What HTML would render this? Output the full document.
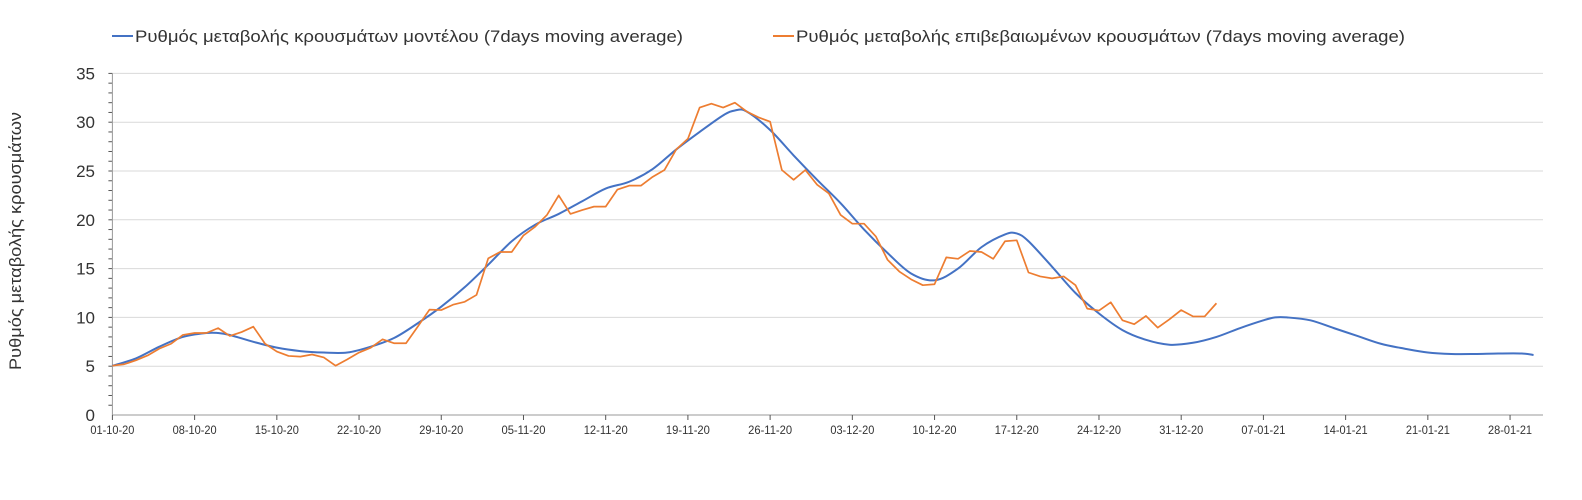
<!DOCTYPE html>
<html><head><meta charset="utf-8"><style>
body{margin:0;background:#fff;font-family:"Liberation Sans",sans-serif;}
svg text{font-family:"Liberation Sans",sans-serif;fill:#333;}
</style></head><body>
<svg id="chart" width="1582" height="495" xmlns="http://www.w3.org/2000/svg">
<g id="grid"></g>
<g id="axes"></g>
<g id="series"></g>
<text x="0" y="0" transform="translate(21,241) rotate(-90)" text-anchor="middle" font-size="17" textLength="258" lengthAdjust="spacingAndGlyphs">Ρυθμός μεταβολής κρουσμάτων</text>
<g>
<line x1="112" y1="36" x2="133" y2="36" stroke="#4472c4" stroke-width="2"/>
<text x="135" y="42" font-size="17" textLength="548" lengthAdjust="spacingAndGlyphs">Ρυθμός μεταβολής κρουσμάτων μοντέλου (7days moving average)</text>
</g>
<g>
<line x1="773" y1="36" x2="794" y2="36" stroke="#ed7d31" stroke-width="2"/>
<text x="796" y="42" font-size="17" textLength="609" lengthAdjust="spacingAndGlyphs">Ρυθμός μεταβολής επιβεβαιωμένων κρουσμάτων (7days moving average)</text>
</g>
</svg>
<script>
const xTickLabels=["01-10-20","08-10-20","15-10-20","22-10-20","29-10-20","05-11-20","12-11-20","19-11-20","26-11-20","03-12-20","10-12-20","17-12-20","24-12-20","31-12-20","07-01-21","14-01-21","21-01-21","28-01-21"];
const yTicks=[0,5,10,15,20,25,30,35];
const modelDays=[0,2,4,6,8,9,10,12,14,16,18,20,22,24,26,28,30,32,34,36,38,40,42,44,46,48,50,52,53,54,56,58,60,62,64,66,68,70,72,74,76,77,78,80,82,84,86,88,90,92,94,96,98,99,100,102,104,106,108,110,112,114,116,118,120,121];
const modelValues=[5.05,5.8,7.0,8.0,8.4,8.4,8.2,7.5,6.9,6.55,6.4,6.4,7.0,7.9,9.4,11.1,13.1,15.4,17.8,19.5,20.6,21.9,23.2,23.9,25.2,27.2,29.0,30.7,31.2,31.1,29.2,26.6,24.1,21.7,19.0,16.6,14.5,13.8,15.0,17.2,18.5,18.6,17.8,15.2,12.5,10.4,8.7,7.7,7.2,7.4,8.0,8.9,9.7,10.0,10.0,9.7,8.9,8.1,7.3,6.8,6.4,6.25,6.25,6.3,6.3,6.15];
const confirmedValues=[5.05,5.2,5.6,6.1,6.8,7.3,8.2,8.4,8.4,8.9,8.1,8.5,9.05,7.3,6.5,6.05,5.98,6.2,5.9,5.05,5.7,6.4,6.9,7.75,7.35,7.35,9.05,10.8,10.75,11.3,11.6,12.3,16.05,16.7,16.7,18.4,19.3,20.5,22.5,20.6,21.0,21.35,21.35,23.1,23.5,23.5,24.4,25.1,27.2,28.3,31.5,31.9,31.5,32.0,31.1,30.5,30.05,25.1,24.1,25.1,23.6,22.7,20.5,19.6,19.6,18.3,15.9,14.7,13.9,13.3,13.4,16.15,16.0,16.8,16.7,16.0,17.8,17.9,14.6,14.2,14.0,14.2,13.3,10.9,10.7,11.55,9.7,9.3,10.15,8.95,9.8,10.75,10.1,10.1,11.45];
const NS="http://www.w3.org/2000/svg";
const X0=112.4,DX=11.745,Y0=415,DY=9.76,XR=1543;
const xs=d=>X0+d*DX, ys=v=>Y0-v*DY;
function mk(tag,attrs,parent){const e=document.createElementNS(NS,tag);for(const k in attrs)e.setAttribute(k,attrs[k]);parent.appendChild(e);return e;}
const grid=document.getElementById('grid'),axes=document.getElementById('axes'),series=document.getElementById('series');
yTicks.forEach(v=>{
  if(v>0){const g=mk('line',{x1:X0,x2:XR,y1:ys(v),y2:ys(v),stroke:'#d9d9d9','stroke-width':1},grid);
  
  }
  const t=mk('text',{x:95,y:ys(v)+6,'text-anchor':'end','font-size':17},axes);t.textContent=v;
  
  
});
for(let v=0;v<35;v++){mk('line',{x1:X0-4,x2:X0,y1:ys(v+1),y2:ys(v+1),stroke:'#555','stroke-width':1},axes);}
const ya=mk('line',{x1:X0,x2:X0,y1:ys(0),y2:ys(35),stroke:'#999','stroke-width':1},axes);


const xa=mk('line',{x1:X0,x2:XR,y1:ys(0),y2:ys(0),stroke:'#999','stroke-width':1},axes);


xTickLabels.forEach((lab,i)=>{
  const x=xs(i*7);
  mk('line',{x1:x,x2:x,y1:ys(0),y2:ys(0)+5,stroke:'#555'},axes);
  const t=mk('text',{x:x,y:ys(0)+19,'text-anchor':'middle','font-size':12,textLength:44,lengthAdjust:'spacingAndGlyphs'},axes);t.textContent=lab;
  
  
});
function smoothPath(pts){
  let d='M'+pts[0][0]+','+pts[0][1];
  for(let i=0;i<pts.length-1;i++){
    const p0=pts[Math.max(0,i-1)],p1=pts[i],p2=pts[i+1],p3=pts[Math.min(pts.length-1,i+2)];
    const c1x=p1[0]+(p2[0]-p0[0])/6,c1y=p1[1]+(p2[1]-p0[1])/6;
    const c2x=p2[0]-(p3[0]-p1[0])/6,c2y=p2[1]-(p3[1]-p1[1])/6;
    d+=' C'+c1x+','+c1y+' '+c2x+','+c2y+' '+p2[0]+','+p2[1];
  }
  return d;
}
const pm=mk('path',{d:smoothPath(modelDays.map((d,i)=>[xs(d),ys(modelValues[i])])),fill:'none',stroke:'#4472c4','stroke-width':2,'stroke-linejoin':'round'},series);


const pc=mk('polyline',{points:confirmedValues.map((v,i)=>xs(i)+','+ys(v)).join(' '),fill:'none',stroke:'#ed7d31','stroke-width':1.7,'stroke-linejoin':'round'},series);


</script>
</body></html>
